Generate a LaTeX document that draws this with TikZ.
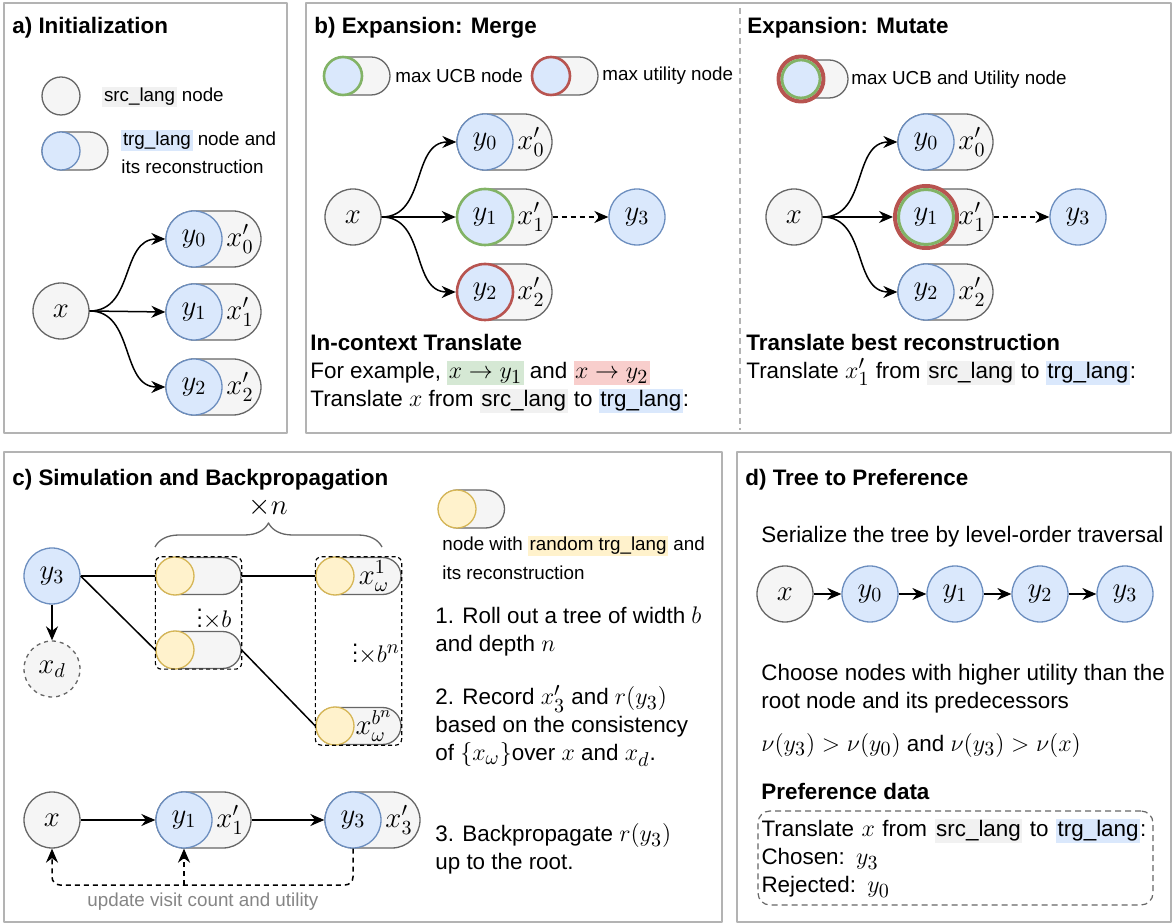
\documentclass[tikz,border=0pt]{standalone}
\usepackage{fontspec}
\setmainfont{Liberation Sans}
\usetikzlibrary{arrows.meta,shapes.misc,fit,decorations.pathreplacing}

\definecolor{srcfill}{HTML}{F5F5F5}
\definecolor{srcdraw}{HTML}{666666}
\definecolor{trgfill}{HTML}{DAE8FC}
\definecolor{trgdraw}{HTML}{6C8EBF}
\definecolor{ucbgreen}{HTML}{82B366}
\definecolor{utilred}{HTML}{B85450}
\definecolor{yellfill}{HTML}{FFF2CC}
\definecolor{yelldraw}{HTML}{D6B656}
\definecolor{hlgray}{HTML}{F1F1F1}
\definecolor{hlgreen}{HTML}{D5E8D4}
\definecolor{hlred}{HTML}{F8CECC}
\definecolor{panelgray}{HTML}{B3B3B3}

\DeclareMathSizes{11.2}{12.6}{9.6}{7.5}
\DeclareMathSizes{12}{13.6}{10.4}{8}
\newcommand{\bodyfont}{\fontsize{11.2}{14}\selectfont}
\newcommand{\legendfont}{\fontsize{9.4}{14.2}\selectfont}
\newcommand{\titlefont}{\bfseries\fontsize{11.2}{14}\selectfont}
\newcommand{\labelfont}{\fontsize{12}{12}\selectfont}
\newcommand{\hl}[2]{{\setlength{\fboxsep}{0.8pt}\colorbox{#1}{\vphantom{Ag}#2}}}

% candidate: circle with its reconstruction pill
\newcommand{\cand}[6]{%
\node[recon] (#1r) at (#2+19.5,#3) {};
\node[trg,#6] (#1) at (#2,#3) {$#4$};
\node[lbl] (#1l) at (#2+46,#3) {$#5$};}

\begin{document}
\begin{tikzpicture}[x=0.5pt,y=-0.5pt,>={Stealth[length=7pt,width=6pt]},line join=round,
panel/.style={draw=panelgray,line width=1pt},
txt/.style={anchor=west,inner sep=0pt,align=left,font=\bodyfont},
legend/.style={txt,font=\legendfont},
title/.style={txt,font=\titlefont},
lbl/.style={inner sep=0pt,font=\labelfont},
src/.style={circle,draw=srcdraw,fill=srcfill,line width=0.65pt,minimum size=28pt,inner sep=0pt,font=\labelfont},
trg/.style={src,draw=trgdraw,fill=trgfill},
recon/.style={rounded rectangle,draw=srcdraw,fill=srcfill,line width=0.65pt,minimum width=47.5pt,minimum height=28pt,inner sep=0pt},
smallrecon/.style={recon,minimum width=33pt,minimum height=19pt},
rand/.style={circle,draw=yelldraw,fill=yellfill,line width=0.65pt,minimum size=19pt,inner sep=0pt},
randrecon/.style={recon,minimum width=42.5pt,minimum height=18.5pt},
ucb/.style={draw=ucbgreen,line width=1.3pt},
util/.style={draw=utilred,line width=1.3pt},
arr/.style={->,line width=0.75pt},
dasharr/.style={->,line width=0.75pt,dash pattern=on 2.5pt off 2pt},
group/.style={draw,line width=0.6pt,dash pattern=on 2pt off 1.5pt,rounded corners=3pt,inner sep=0pt}]
\useasboundingbox (0,0) rectangle (1173,924);

% panels
\draw[panel] (4,3) rectangle (287,433);
\draw[panel] (306,3) rectangle (1171,433);
\draw[panel] (4,452) rectangle (722,922);
\draw[panel] (737,452) rectangle (1171,922);
\draw[draw=panelgray,line width=0.6pt,dash pattern=on 3pt off 2pt] (740,8) -- (740,430);

% a) Initialization
\node[title] (atitle) at (12,28) {a) Initialization};
\node[src,minimum size=19pt] (asrc) at (61,96) {};
\node[legend] (asrctxt) at (102,97) {\hl{hlgray}{src\_lang} node};
\node[smallrecon] (atrgr) at (75,151) {};
\node[trg,minimum size=19pt] (atrg) at (61,151) {};
\node[legend] (atrgtxt) at (121,152) {\hl{trgfill}{trg\_lang} node and\\its reconstruction};
\node[src] (ax) at (61,311) {$x$};
\cand{ay0}{194}{239}{y_0}{x'_0}{}
\cand{ay1}{194}{312}{y_1}{x'_1}{}
\cand{ay2}{194}{387}{y_2}{x'_2}{}
\draw[arr] (ax.east) .. controls +(45,0) and +(-45,0) .. (ay0.west);
\draw[arr] (ax.east) -- (ay1.west);
\draw[arr] (ax.east) .. controls +(45,0) and +(-45,0) .. (ay2.west);

% b) Expansion: Merge
\node[title] (btitle) at (314,28) {b) Expansion: Merge};
\node[smallrecon] (bucbr) at (357,76) {};
\node[trg,ucb,minimum size=19pt] (bucb) at (343,76) {};
\node[legend] (bucbtxt) at (395,76) {max UCB node};
\node[smallrecon] (butilr) at (565,76) {};
\node[trg,util,minimum size=19pt] (butil) at (551,76) {};
\node[legend] (butiltxt) at (602,76) {max utility node};
\node[src] (bx) at (353,217) {$x$};
\cand{by0}{485}{142}{y_0}{x'_0}{}
\cand{by1}{485}{217}{y_1}{x'_1}{ucb}
\cand{by2}{485}{292}{y_2}{x'_2}{util}
\node[trg] (by3) at (637,217) {$y_3$};
\draw[arr] (bx.east) .. controls +(45,0) and +(-45,0) .. (by0.west);
\draw[arr] (bx.east) -- (by1.west);
\draw[arr] (bx.east) .. controls +(45,0) and +(-45,0) .. (by2.west);
\draw[dasharr] (by1r.east) -- (by3.west);
\node[txt] (bprompt) at (310,373.5) {\textbf{In-context Translate}\\
For example, \hl{hlgreen}{$x\rightarrow y_1$} and \hl{hlred}{$x\rightarrow y_2$}\\
Translate $x$ from \hl{hlgray}{src\_lang} to \hl{trgfill}{trg\_lang}:};

% Expansion: Mutate
\node[title] (mtitle) at (747,28) {Expansion: Mutate};
\node[smallrecon] (mbestr) at (815,79) {};
\node[trg,draw=utilred,line width=2pt,minimum size=22.5pt] (mbest) at (801,79) {};
\node[circle,draw=ucbgreen,line width=1.4pt,minimum size=19pt,inner sep=0pt] (mbestg) at (801,79) {};
\node[legend] (mbesttxt) at (851,80) {max UCB and Utility node};
\node[src] (mx) at (794,217) {$x$};
\cand{my0}{926}{142}{y_0}{x'_0}{}
\cand{my1}{926}{217}{}{x'_1}{draw=utilred,line width=2pt,minimum size=31pt}
\node[circle,draw=ucbgreen,line width=1.5pt,minimum size=27.5pt,inner sep=0pt,font=\labelfont] (my1g) at (my1) {$y_1$};
\cand{my2}{926}{292}{y_2}{x'_2}{}
\node[trg] (my3) at (1078,217) {$y_3$};
\draw[arr] (mx.east) .. controls +(45,0) and +(-45,0) .. (my0.west);
\draw[arr] (mx.east) -- (my1.west);
\draw[arr] (mx.east) .. controls +(45,0) and +(-45,0) .. (my2.west);
\draw[dasharr] (my1r.east) -- (my3.west);
\node[txt] (mprompt) at (746,360) {\textbf{Translate best reconstruction}\\
Translate $x'_1$ from \hl{hlgray}{src\_lang} to \hl{trgfill}{trg\_lang}:};

% c) Simulation and Backpropagation
\node[title] (ctitle) at (12,480) {c) Simulation and Backpropagation};
\node[trg] (cy3) at (52,576) {$y_3$};
\node[src,draw=srcdraw,dash pattern=on 2pt off 2pt] (cxd) at (52,669) {$x_d$};
\draw[arr] (cy3) -- (cxd);
\node[randrecon] (cp1r) at (198.5,576) {};
\node[rand] (cp1) at (175,576) {};
\node[randrecon] (cp2r) at (198.5,650) {};
\node[rand] (cp2) at (175,650) {};
\node[randrecon] (cq1r) at (358.5,576) {};
\node[rand] (cq1) at (335,576) {};
\node[lbl] (cq1l) at (374,576) {$x_\omega^1$};
\node[randrecon] (cq2r) at (358.5,726) {};
\node[rand] (cq2) at (335,726) {};
\node[lbl] (cq2l) at (374,726) {$x_\omega^{b^n}$};
\node[group,fit=(cp1r)(cp2r)] (ccol1) {};
\node[group,fit=(cq1r)(cq2r)] (ccol2) {};
\draw[line width=0.75pt] (cy3.east) -- (cp1r.west);
\draw[line width=0.75pt] (cy3.east) -- (cp2r.west);
\draw[line width=0.75pt] (cp1r.east) -- (cq1r.west);
\draw[line width=0.75pt] (cp2r.east) -- (cq2r.west);
\node[lbl,font=\bodyfont] (cwidth) at (214,613) {$\vdots{\times}b$};
\node[lbl,font=\bodyfont] (cdepth) at (376,648) {$\vdots{\times}b^n$};
\draw[draw=srcdraw,line width=0.65pt,decorate,decoration={brace,amplitude=12pt}] (155,547) -- (382,547);
\node[lbl] (cn) at (268,507) {$\times n$};
\node[smallrecon] (crandr) at (471.5,509) {};
\node[rand] (crand) at (457,509) {};
\node[legend] (crandtxt) at (442,557.5) {node with \hl{yellfill}{random trg\_lang} and\\its reconstruction};
\node[txt] (cstep1) at (435,631.5) {1. Roll out a tree of width $b$\\and depth $n$};
\node[txt] (cstep2) at (435,726) {2. Record $x'_3$ and $r(y_3)$\\based on the consistency\\of $\{x_\omega\}$over $x$ and $x_d$.};
\node[txt] (cstep3) at (435,849) {3. Backpropagate $r(y_3)$\\up to the root.};
\node[src] (cx) at (52,820) {$x$};
\cand{cy1}{184}{820}{y_1}{x'_1}{}
\cand{cy3b}{353}{820}{y_3}{x'_3}{}
\draw[arr] (cx) -- (cy1);
\draw[arr] (cy1r.east) -- (cy3b.west);
\coordinate (cback) at (184,885);
\draw[dasharr,rounded corners=4pt] (cy3b.south) |- (cback) -| (cx.south);
\draw[dasharr] (cback) -- (cy1.south);
\node[legend,text=srcdraw!80] (cbacktxt) at (87,902) {update visit count and utility};

% d) Tree to Preference
\node[title] (dtitle) at (745,480) {d) Tree to Preference};
\node[txt] (dserial) at (761,537) {Serialize the tree by level-order traversal};
\node[src] (dx) at (785,594) {$x$};
\node[trg] (dy0) at (870,594) {$y_0$};
\node[trg] (dy1) at (955,594) {$y_1$};
\node[trg] (dy2) at (1040,594) {$y_2$};
\node[trg] (dy3) at (1125,594) {$y_3$};
\foreach \a/\b in {dx/dy0,dy0/dy1,dy1/dy2,dy2/dy3}
\draw[arr] (\a) -- (\b);
\node[txt] (dchoose) at (761,688.5) {Choose nodes with higher utility than the\\root node and its predecessors};
\node[txt] (dformula) at (761,745) {$\nu(y_3)>\nu(y_0)$ and $\nu(y_3)>\nu(x)$};
\node[title] (dprefttl) at (761,791) {Preference data};
\node[txt,anchor=center,draw=srcdraw,line width=0.6pt,dash pattern=on 3pt off 2pt,rounded corners=6pt,
  minimum width=197.5pt,minimum height=47pt,text width=194pt,inner xsep=1.75pt] (dpref) at (955.5,858)
  {Translate $x$ from \hl{hlgray}{src\_lang} to \hl{trgfill}{trg\_lang}:\\Chosen: $y_3$\\Rejected: $y_0$};
\end{tikzpicture}
\end{document}
